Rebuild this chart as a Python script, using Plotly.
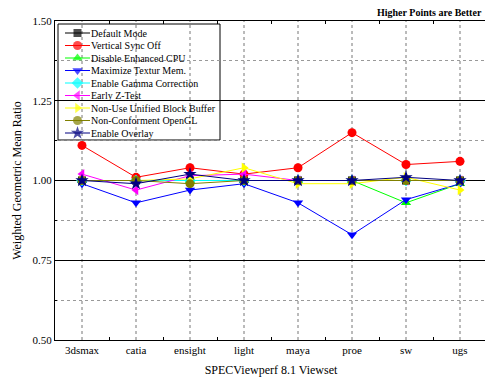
import plotly.graph_objects as go

categories = ["3dsmax", "catia", "ensight", "light", "maya", "proe", "sw", "ugs"]

default_mode = [1.00, 1.00, 1.00, 1.00, 1.00, 1.00, 1.00, 1.00]
vsync_off = [1.11, 1.01, 1.04, 1.02, 1.04, 1.15, 1.05, 1.06]
disable_cpu = [1.00, 1.00, 1.00, 1.00, 1.00, 1.00, 0.93, 0.99]
max_textur = [0.99, 0.93, 0.97, 0.99, 0.93, 0.83, 0.94, 0.99]
gamma_corr = [1.00, 1.00, 1.00, 1.00, 1.00, 1.00, 1.00, 1.00]
early_z = [1.02, 0.97, 1.015, 1.02, 1.00, 1.00, 1.00, 1.00]
non_unified = [1.00, 1.00, 1.005, 1.04, 0.99, 0.99, 1.01, 0.97]
non_conform = [1.00, 1.00, 0.99, 1.00, 1.00, 1.00, 1.00, 1.00]
enable_overlay = [1.00, 0.99, 1.02, 1.00, 1.00, 1.00, 1.01, 1.00]

series_names = ["Default Mode", "Vertical Sync Off", "Disable Enhanced CPU",
                "Maximize Textur Mem.", "Enable Gamma Correction", "Early Z-Test",
                "Non-Use Unified Block Buffer", "Non-Conforment OpenGL", "Enable Overlay"]
series_values = [default_mode, vsync_off, disable_cpu, max_textur, gamma_corr,
                 early_z, non_unified, non_conform, enable_overlay]
series_colors = ["#000000", "#ff0000", "#00ff00", "#0000ff", "#00ffff",
                 "#ff00ff", "#ffff00", "#808000", "#000080"]
series_symbols = ["square", "circle", "triangle-up", "triangle-down", "diamond",
                  "triangle-left", "triangle-right", "circle", "star"]
series_sizes = [8, 9, 9, 9, 9, 9, 9, 9, 10]

FONT = "Liberation Serif"

# plot area in pixels (for the hand-drawn compact legend)
PW, PH = 432, 319

fig = go.Figure()
for name, vals, color, sym, sz in zip(series_names, series_values, series_colors,
                                      series_symbols, series_sizes):
    fig.add_trace(go.Scatter(
        x=categories, y=vals, name=name, mode="lines+markers",
        line=dict(color=color, width=1),
        marker=dict(color=color, symbol=sym, size=sz, line=dict(width=0)),
        showlegend=False,
    ))

# compact legend drawn on an overlay pixel axis
annotations = []
for i, (name, color, sym, sz) in enumerate(zip(series_names, series_colors,
                                                series_symbols, series_sizes)):
    yy = 12 + 12.5 * i
    fig.add_trace(go.Scatter(
        x=[10, 22.5, 35], y=[yy, yy, yy], xaxis="x2", yaxis="y2",
        mode="lines+markers", line=dict(color=color, width=1),
        marker=dict(color=color, symbol=sym, size=[0, sz, 0], line=dict(width=0)),
        showlegend=False, hoverinfo="skip",
    ))
    annotations.append(dict(
        text=name, xref="x2", yref="y2", x=34, y=yy, xanchor="left", yanchor="middle",
        showarrow=False, font=dict(family=FONT, size=10, color="#000000"),
    ))

annotations.append(dict(
    text="<b>Higher Points are Better</b>", xref="paper", yref="paper",
    x=1.0, y=1.0, xanchor="right", yanchor="bottom", yshift=1, xshift=-3,
    showarrow=False, font=dict(family=FONT, size=10),
))

shapes = [dict(type="rect", xref="paper", yref="paper",
               x0=3 / PW, x1=165 / PW, y0=1 - 119 / PH, y1=1 - 3 / PH,
               line=dict(color="#000000", width=1), fillcolor="white", layer="between")]
# vertical dotted gridlines at categories
for c in categories:
    shapes.append(dict(type="line", xref="x", yref="paper", x0=c, x1=c, y0=0, y1=1,
                       line=dict(color="#777777", width=1, dash="dot"), layer="below"))

fig.update_layout(
    width=487, height=383,
    margin=dict(l=55, r=0, t=21, b=43),
    paper_bgcolor="white", plot_bgcolor="white",
    font=dict(family=FONT, size=11, color="#000000"),
    showlegend=False,
    annotations=annotations,
    shapes=shapes,
    xaxis2=dict(overlaying="x", range=[0, PW], visible=False, fixedrange=True),
    yaxis2=dict(overlaying="y", range=[PH, 0], visible=False, fixedrange=True),
)

fig.update_layout(xaxis=dict(
    type="category", range=[-0.5, 7.5],
    showgrid=False, tickson="boundaries",
    ticks="inside", ticklen=3, tickcolor="#000000",
    showline=True, linecolor="#000000", linewidth=1, mirror="allticks",
    title=dict(text="SPECViewperf 8.1 Viewset", font=dict(family=FONT, size=12), standoff=10),
    tickfont=dict(family=FONT, size=11),
    zeroline=False,
))
fig.update_layout(yaxis=dict(
    range=[0.5, 1.5], dtick=0.25, tick0=0.5, tickformat=".2f",
    showgrid=True, gridcolor="#000000", gridwidth=1,
    ticks="inside", ticklen=4, tickcolor="#000000",
    minor=dict(dtick=0.125, tick0=0.5, ticks="inside", ticklen=2, tickcolor="#000000",
               showgrid=True, gridcolor="#999999", griddash="dot", gridwidth=1),
    showline=True, linecolor="#000000", linewidth=1, mirror="allticks",
    title=dict(text="Weighted Geometric Mean Ratio", font=dict(family=FONT, size=12), standoff=8),
    tickfont=dict(family=FONT, size=11),
    zeroline=False,
))

fig.write_html(
    "out.html",
    config={"displayModeBar": False},
    post_script="document.body.style.margin='0';document.body.style.overflow='hidden';",
)
